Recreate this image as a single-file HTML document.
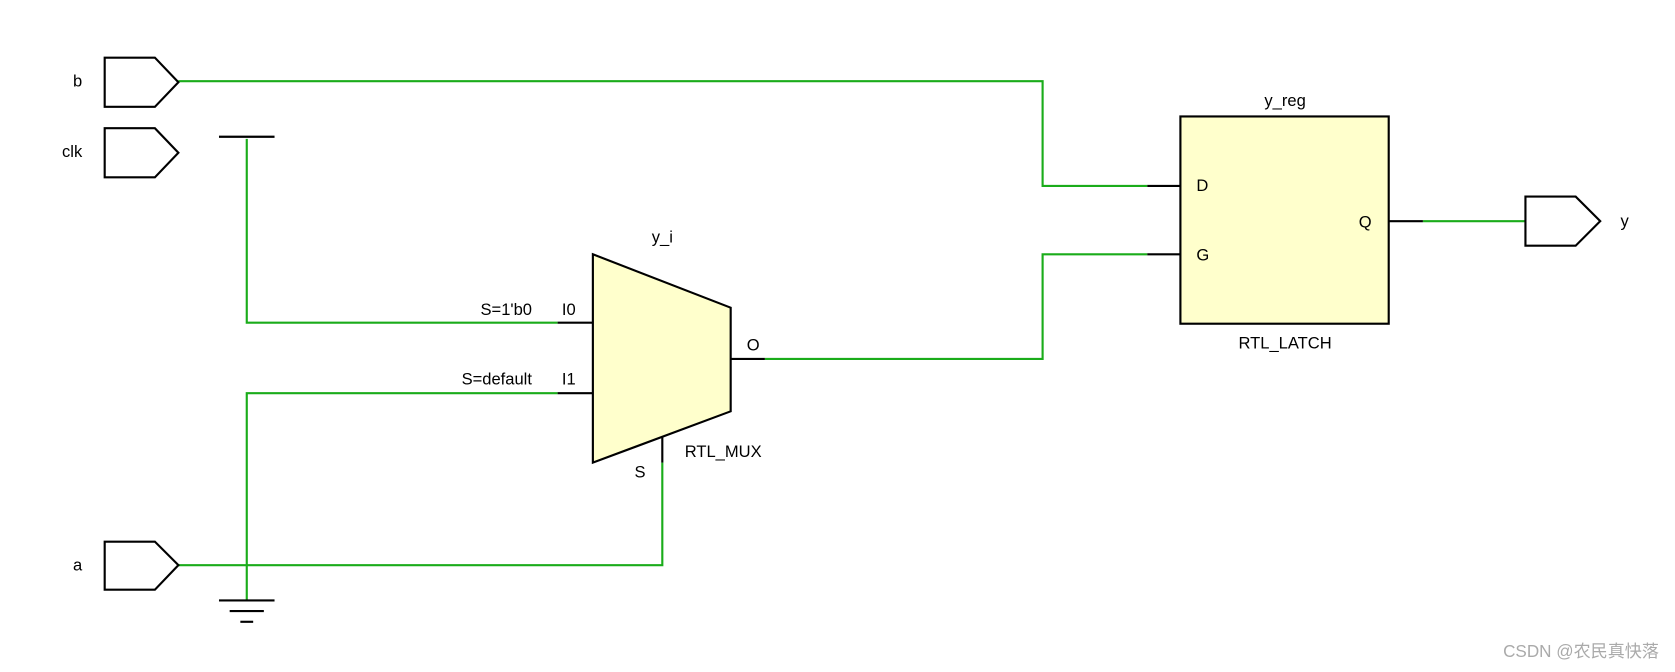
<!DOCTYPE html>
<html><head><meta charset="utf-8"><style>
html,body{margin:0;padding:0;background:#fff;}
svg{display:block;}
text{font-family:"Liberation Sans",Arial,sans-serif;font-size:15.5px;fill:#000;}
</style></head><body>
<svg width="1675" height="672" viewBox="0 0 1568 629" preserveAspectRatio="none">
<g fill="none" stroke="#1aac1a" stroke-width="2">
<polyline points="167,76 976,76 976,174 1074,174"/>
<polyline points="231,130 231,302 522,302"/>
<polyline points="231,562 231,368 522,368"/>
<polyline points="716,336 976,336 976,238 1074,238"/>
<polyline points="167,529 620,529 620,433"/>
<line x1="1332" y1="207" x2="1428" y2="207"/>
</g>
<g stroke="#000" stroke-width="2" fill="none">
<polygon points="98,54 145,54 167,77 145,100 98,100"/>
<polygon points="98,120 145,120 167,143 145,166 98,166"/>
<polygon points="98,507 145,507 167,529 145,552 98,552"/>
<polygon points="1428,184 1475,184 1498,207 1475,230 1428,230"/>
<line x1="205" y1="128" x2="257" y2="128"/>
<line x1="205" y1="562" x2="257" y2="562"/>
<line x1="215" y1="572" x2="247" y2="572"/>
<line x1="225" y1="582" x2="237" y2="582"/>
<line x1="522" y1="302" x2="555" y2="302"/>
<line x1="522" y1="368" x2="555" y2="368"/>
<line x1="684" y1="336" x2="716" y2="336"/>
<line x1="620" y1="408" x2="620" y2="433"/>
<line x1="1074" y1="174" x2="1105" y2="174"/>
<line x1="1074" y1="238" x2="1105" y2="238"/>
<line x1="1300" y1="207" x2="1332" y2="207"/>
<polygon points="555,238 684,288 684,385 555,433" fill="#ffffcc"/>
<rect x="1105" y="109" width="195" height="194" fill="#ffffcc"/>
</g>
<text x="77" y="81" text-anchor="end">b</text>
<text x="77" y="147" text-anchor="end">clk</text>
<text x="77" y="534" text-anchor="end">a</text>
<text x="1517" y="212">y</text>
<text x="620" y="227" text-anchor="middle">y_i</text>
<text x="498" y="295" text-anchor="end">S=1'b0</text>
<text x="526" y="295">I0</text>
<text x="498" y="360" text-anchor="end">S=default</text>
<text x="526" y="360">I1</text>
<text x="699" y="328">O</text>
<text x="594" y="447">S</text>
<text x="641" y="428">RTL_MUX</text>
<text x="1203" y="99" text-anchor="middle">y_reg</text>
<text x="1203" y="326" text-anchor="middle">RTL_LATCH</text>
<text x="1120" y="179">D</text>
<text x="1120" y="244">G</text>
<text x="1272" y="213">Q</text>
<text x="1553" y="615" text-anchor="end" style="fill:#aaa;font-size:16px;font-family:'Liberation Sans','Noto Sans CJK SC',sans-serif">CSDN @农民真快落</text>
</svg>
</body></html>
